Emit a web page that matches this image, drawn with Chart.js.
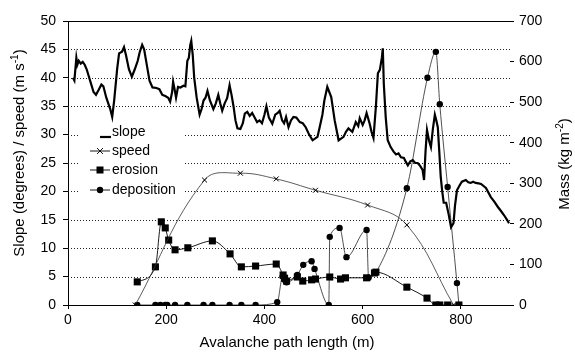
<!DOCTYPE html>
<html>
<head>
<meta charset="utf-8">
<script src="https://cdn.jsdelivr.net/npm/chart.js@4"></script>
<style>
  body { margin: 0; background: #fff; }
  #wrap { width: 575px; height: 354px; }
</style>
</head>
<body>
<div id="wrap"><canvas id="chart"></canvas></div>
<script>
// Path length (m) and slope (degrees)
const slopeX = [10, 13, 17, 19, 22, 26, 30, 34, 38, 45, 52, 57, 62, 68, 72, 78, 86, 90, 94, 100,
  104, 110, 114, 118, 124, 130, 136, 142, 146, 151, 155, 160, 166, 172, 180, 186, 192, 198, 204, 208,
  212, 214, 217, 220, 224, 229, 235, 239, 243, 246, 249, 251, 254, 257, 262, 268, 272, 276, 280, 284,
  289, 296, 301, 306, 310, 314, 319, 324, 329, 333, 337, 341, 345, 351, 356, 360, 365, 370, 375, 380,
  385, 390, 395, 400, 404, 409, 416, 422, 427, 431, 436, 440, 444, 449, 454, 459, 465, 472, 478, 484,
  491, 498, 508, 513, 518, 522, 528, 532, 536, 543, 551, 556, 561, 566, 571, 579, 586, 591, 594, 600,
  604, 608, 614, 618, 622, 627, 631, 635, 639, 641, 643, 647, 651, 657, 663, 668, 673, 678, 684, 688,
  692, 697, 702, 707, 712, 717, 722, 725, 728, 731, 735, 739, 743, 747, 750, 753, 756, 759, 762, 765,
  770, 775, 780, 785, 788, 792, 797, 802, 810, 815, 820, 825, 830, 836, 841, 851, 861, 868, 875, 882,
  888, 894, 898];
const slopeY = [40.0, 39.5, 43.5, 42.3, 43.0, 42.5, 42.8, 42.3, 41.5, 39.5, 37.5, 37.0, 37.8, 38.8, 38.5, 36.5, 34.5, 33.1, 36.0, 41.5,
  44.3, 44.6, 45.4, 44.0, 41.5, 40.2, 41.5, 43.0, 44.5, 45.8, 45.0, 42.5, 39.5, 38.3, 38.2, 38.0, 37.0, 36.8, 36.5, 35.8,
  37.5, 39.3, 38.0, 36.5, 38.4, 38.3, 38.6, 38.5, 43.0, 43.5, 45.8, 46.5, 44.0, 40.0, 36.5, 33.5, 34.5, 36.0, 36.5, 37.7,
  36.0, 34.5, 35.5, 37.0, 35.5, 34.2, 35.5, 36.4, 38.7, 37.0, 35.0, 32.5, 31.1, 31.0, 32.0, 33.7, 34.0, 33.3, 33.8, 33.0,
  32.2, 32.5, 32.0, 33.5, 35.0, 33.0, 31.9, 33.5, 33.8, 34.2, 32.5, 32.0, 33.1, 31.3, 32.5, 33.1, 33.0, 32.2, 32.0, 31.3,
  30.0, 29.0, 29.6, 31.5, 33.5, 36.0, 38.4, 37.5, 36.6, 32.5, 29.0, 29.3, 29.6, 30.5, 31.1, 30.5, 32.2, 31.5, 32.9, 31.7,
  32.5, 33.8, 32.0, 30.5, 29.4, 35.0, 40.8, 41.4, 43.5, 45.2, 39.0, 33.0, 29.0, 27.8, 27.0, 26.5, 26.7, 26.0, 25.9, 25.2,
  24.6, 25.3, 25.5, 25.0, 25.0, 24.5, 23.8, 22.0, 27.0, 30.8, 29.0, 27.8, 31.0, 33.5, 32.5, 31.3, 27.0, 22.5, 20.0, 18.0,
  18.0, 16.0, 13.7, 14.4, 17.5, 20.2, 21.0, 21.7, 22.0, 21.6, 21.5, 21.7, 21.5, 21.4, 21.3, 20.6, 19.0, 18.2, 17.3, 16.5,
  15.8, 15.0, 14.4];

// Speed (m/s)
const speedX = [137, 278, 351, 424, 504, 610, 690, 785];
const speedY = [0, 22.0, 23.2, 22.2, 20.2, 17.6, 14.1, 0];

// Erosion and deposition (kg m-2)
const erosionX = [141, 178, 190, 198, 205, 218, 244, 294, 330, 353, 382, 424, 438, 441, 445, 467, 478, 496, 504, 533,
  555, 565, 608, 624, 627, 690, 731, 749, 757, 773, 796];
const erosionY = [57, 94, 205, 190, 160, 136, 141, 158, 126, 94, 96, 101, 74, 66, 59, 69, 59, 62, 64, 69,
  64, 67, 67, 79, 81, 44, 17, 0, 0, 0, 0];
const depositionX = [141, 178, 188, 198, 202, 218, 243, 276, 294, 329, 353, 382, 426, 437, 441, 445, 467, 479, 496, 502,
  531, 533, 553, 567, 608, 612, 627, 690, 732, 749, 757, 773, 792, 796];
const depositionY = [0, 0, 0, 0, 0, 0, 0, 0, 0, 0, 0, 0, 7, 70, 62, 56, 74, 99, 108, 89,
  0, 168, 190, 118, 185, 67, 80, 288, 560, 624, 495, 291, 54, 0];

const gridValues = [5, 10, 15, 20, 25, 30, 35, 40, 45];
const legendLabels = ['slope', 'speed', 'erosion', 'deposition'];

const pts = (xs, ys) => xs.map((v, i) => ({ x: v, y: ys[i] }));

Chart.defaults.font.family = '"Liberation Sans", Arial, sans-serif';
Chart.defaults.font.size = 14;
Chart.defaults.color = '#000';

function richText(ctx, parts, cx, cy, rot) {
  ctx.save();
  ctx.translate(cx, cy);
  ctx.rotate(rot);
  ctx.textBaseline = 'middle';
  ctx.textAlign = 'left';
  let total = 0;
  for (const p of parts) {
    ctx.font = (p.sup ? 10 : 15) + 'px "Liberation Sans", Arial, sans-serif';
    p.w = ctx.measureText(p.t).width;
    total += p.w;
  }
  let xx = -total / 2;
  for (const p of parts) {
    ctx.font = (p.sup ? 10 : 15) + 'px "Liberation Sans", Arial, sans-serif';
    ctx.fillText(p.t, xx, p.sup ? -5 : 0);
    xx += p.w;
  }
  ctx.restore();
}

const decor = {
  id: 'decor',
  beforeDatasetsDraw(chart) {
    const { ctx, chartArea: a, scales: { y } } = chart;
    ctx.save();
    ctx.strokeStyle = '#222';
    ctx.lineWidth = 1;
    ctx.setLineDash([1, 2]);
    for (const v of gridValues) {
      const py = Math.round(y.getPixelForValue(v)) + 0.5;
      ctx.beginPath();
      ctx.moveTo(a.left, py);
      ctx.lineTo(a.right, py);
      ctx.stroke();
    }
    ctx.setLineDash([]);
    ctx.strokeStyle = '#000';
    const top = Math.round(y.getPixelForValue(50)) + 0.5;
    ctx.beginPath();
    ctx.moveTo(a.left, top);
    ctx.lineTo(a.right, top);
    ctx.stroke();

    // legend
    ctx.fillStyle = '#fff';
    ctx.fillRect(79, 121, 106, 78);
    ctx.fillStyle = '#000';
    ctx.font = '14px "Liberation Sans", Arial, sans-serif';
    ctx.textBaseline = 'middle';
    const rows = [132, 151, 170, 190];
    legendLabels.forEach((lab, i) => {
      const ry = rows[i];
      ctx.fillText(lab, 112, ry);
      ctx.strokeStyle = '#000';
      if (i === 0) {
        ctx.lineWidth = 2.2;
        ctx.beginPath();
        ctx.moveTo(100, ry + 5);
        ctx.lineTo(111, ry + 5);
        ctx.stroke();
        return;
      }
      ctx.lineWidth = 0.9;
      ctx.beginPath();
      ctx.moveTo(90, ry);
      ctx.lineTo(110, ry);
      ctx.stroke();
      if (i === 1) {
        ctx.beginPath();
        ctx.moveTo(97, ry - 3); ctx.lineTo(103, ry + 3);
        ctx.moveTo(103, ry - 3); ctx.lineTo(97, ry + 3);
        ctx.stroke();
      } else if (i === 2) {
        ctx.fillRect(96.5, ry - 3.5, 7, 7);
      } else {
        ctx.beginPath();
        ctx.arc(100, ry, 3.2, 0, Math.PI * 2);
        ctx.fill();
      }
    });
    ctx.restore();
  },
  afterDraw(chart) {
    const { ctx } = chart;
    ctx.save();
    ctx.fillStyle = '#000';
    richText(ctx, [{ t: 'Slope (degrees) / speed (m s' }, { t: '-1', sup: true }, { t: ')' }], 20, 153, -Math.PI / 2);
    richText(ctx, [{ t: 'Mass (kg m' }, { t: '-2', sup: true }, { t: ')' }], 565, 164, -Math.PI / 2);
    richText(ctx, [{ t: 'Avalanche path length (m)' }], 287, 343, 0);
    ctx.restore();
  }
};

new Chart(document.getElementById('chart'), {
  type: 'line',
  data: {
    datasets: [
      {
        label: 'slope', data: pts(slopeX, slopeY), yAxisID: 'y',
        borderColor: '#000', borderWidth: 2.2, pointRadius: 0, tension: 0
      },
      {
        label: 'speed', data: pts(speedX, speedY), yAxisID: 'y',
        borderColor: '#333', borderWidth: 0.8, tension: 0.4,
        pointStyle: 'crossRot', pointRadius: 3.5, pointBorderColor: '#000', pointBorderWidth: 1
      },
      {
        label: 'erosion', data: pts(erosionX, erosionY), yAxisID: 'y2',
        borderColor: '#000', borderWidth: 0.9, cubicInterpolationMode: 'monotone',
        pointStyle: 'rect', pointRadius: 5, pointBackgroundColor: '#000', pointBorderColor: '#000', pointBorderWidth: 0
      },
      {
        label: 'deposition', data: pts(depositionX, depositionY), yAxisID: 'y2',
        borderColor: '#222', borderWidth: 0.8, cubicInterpolationMode: 'monotone',
        pointStyle: 'circle', pointRadius: 3.2, pointBackgroundColor: '#000', pointBorderColor: '#000', pointBorderWidth: 0
      }
    ]
  },
  options: {
    responsive: true,
    maintainAspectRatio: false,
    animation: false,
    layout: { padding: { top: 21, left: 0, right: 0, bottom: 0 } },
    plugins: { legend: { display: false }, tooltip: { enabled: false } },
    scales: {
      x: {
        type: 'linear', min: 0, max: 900,
        ticks: { stepSize: 200, includeBounds: false, padding: 3, font: { size: 14 } },
        grid: { drawOnChartArea: false, tickLength: 4, color: '#000' },
        border: { color: '#000', width: 1 },
        afterFit: s => { s.height = 49; }
      },
      y: {
        position: 'left', min: 0, max: 50,
        ticks: { stepSize: 5, padding: 7, font: { size: 14 } },
        grid: { drawOnChartArea: false, tickLength: 5, color: '#000' },
        border: { color: '#000', width: 1 },
        afterFit: s => { s.width = 68; }
      },
      y2: {
        position: 'right', min: 0, max: 700,
        ticks: { stepSize: 100, padding: 5, font: { size: 14 } },
        grid: { drawOnChartArea: false, tickLength: 4, color: '#000' },
        border: { display: false },
        afterFit: s => { s.width = 65; }
      }
    }
  },
  plugins: [decor]
});
</script>
</body>
</html>
